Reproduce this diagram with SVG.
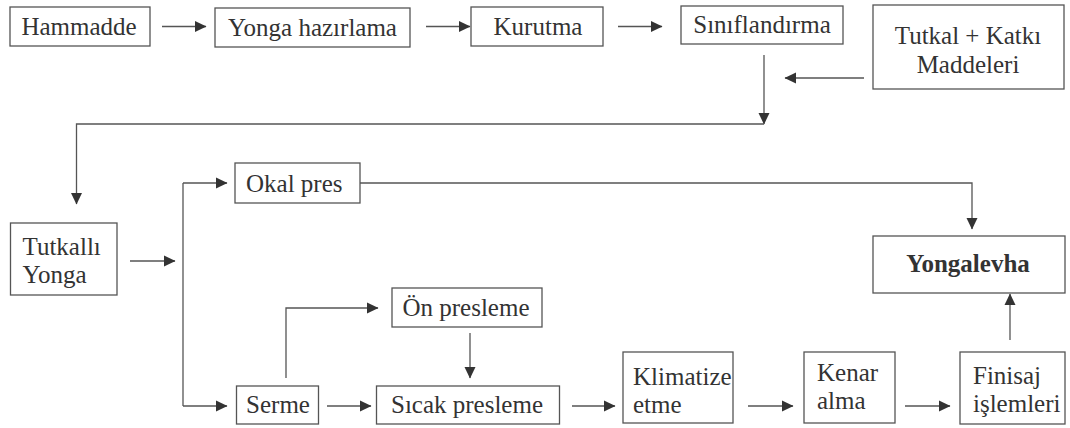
<svg xmlns="http://www.w3.org/2000/svg" width="1070" height="428" viewBox="0 0 1070 428">
<style>
.box{fill:#fff;stroke:#555;stroke-width:1.3}
text{font-family:'Liberation Serif','DejaVu Serif',serif;font-size:25px;fill:#333}
.m{text-anchor:middle}
.b{font-weight:bold}
.c{fill:none;stroke:#555;stroke-width:1.3}
</style>
<defs>
<marker id="ah" markerUnits="userSpaceOnUse" markerWidth="12" markerHeight="12" refX="11" refY="6" orient="auto">
<path d="M0,0.5 L11.5,6 L0,11.5 z" fill="#333"/>
</marker>
</defs>
<g id="connectors">
<path class="c" d="M162,26.5 H206" marker-end="url(#ah)"/>
<path class="c" d="M426,26.5 H470" marker-end="url(#ah)"/>
<path class="c" d="M618,26.5 H662" marker-end="url(#ah)"/>
<path class="c" d="M764,55 V124" marker-end="url(#ah)"/>
<path class="c" d="M864,78 H785" marker-end="url(#ah)"/>
<path class="c" d="M764,124 H76.5 V204" marker-end="url(#ah)"/>
<path class="c" d="M130,261 H175" marker-end="url(#ah)"/>
<path class="c" d="M183,183 V406"/>
<path class="c" d="M183,183 H227" marker-end="url(#ah)"/>
<path class="c" d="M183,406 H227" marker-end="url(#ah)"/>
<path class="c" d="M360,183 H972 V229" marker-end="url(#ah)"/>
<path class="c" d="M286,378 V308 H378" marker-end="url(#ah)"/>
<path class="c" d="M327,406 H371" marker-end="url(#ah)"/>
<path class="c" d="M470,333 V378" marker-end="url(#ah)"/>
<path class="c" d="M572,406 H615" marker-end="url(#ah)"/>
<path class="c" d="M748,406 H793" marker-end="url(#ah)"/>
<path class="c" d="M905,406 H950" marker-end="url(#ah)"/>
<path class="c" d="M1010,340 V294" marker-end="url(#ah)"/>
</g>
<g id="hammadde"><rect class="box" x="10" y="7" width="140" height="39"/><text class="m" x="79" y="35">Hammadde</text></g>
<g id="yonga-hazirlama"><rect class="box" x="215" y="8" width="195" height="39"/><text class="m" x="312.5" y="36">Yonga hazırlama</text></g>
<g id="kurutma"><rect class="box" x="471" y="7" width="132" height="39"/><text class="m" x="538" y="35">Kurutma</text></g>
<g id="siniflandirma"><rect class="box" x="681" y="6" width="162" height="38"/><text class="m" x="762" y="33">Sınıflandırma</text></g>
<g id="tutkal-katki"><rect class="box" x="873" y="5" width="191" height="84"/><text class="m" x="968" y="44">Tutkal + Katkı</text><text class="m" x="968" y="73">Maddeleri</text></g>
<g id="tutkalli-yonga"><rect class="box" x="10.5" y="223" width="106.5" height="72"/><text x="22.5" y="255">Tutkallı</text><text x="22.5" y="283">Yonga</text></g>
<g id="okal-pres"><rect class="box" x="235" y="163" width="125" height="40"/><text x="246" y="192">Okal pres</text></g>
<g id="yongalevha"><rect class="box" x="873" y="236" width="192" height="57"/><text class="m b" x="968" y="272">Yongalevha</text></g>
<g id="on-presleme"><rect class="box" x="392" y="288" width="150" height="39"/><text class="m" x="466" y="316">Ön presleme</text></g>
<g id="serme"><rect class="box" x="236.5" y="386" width="82" height="38"/><text class="m" x="278" y="413">Serme</text></g>
<g id="sicak-presleme"><rect class="box" x="376.5" y="386" width="183" height="38"/><text class="m" x="467" y="413">Sıcak presleme</text></g>
<g id="klimatize-etme"><rect class="box" x="623" y="352" width="110" height="71"/><text x="633" y="385">Klimatize</text><text x="633" y="413">etme</text></g>
<g id="kenar-alma"><rect class="box" x="804" y="352" width="91" height="71"/><text x="817" y="381">Kenar</text><text x="817" y="409">alma</text></g>
<g id="finisaj"><rect class="box" x="960" y="352" width="105" height="72"/><text x="973" y="384">Finisaj</text><text x="973" y="412">işlemleri</text></g>
</svg>
